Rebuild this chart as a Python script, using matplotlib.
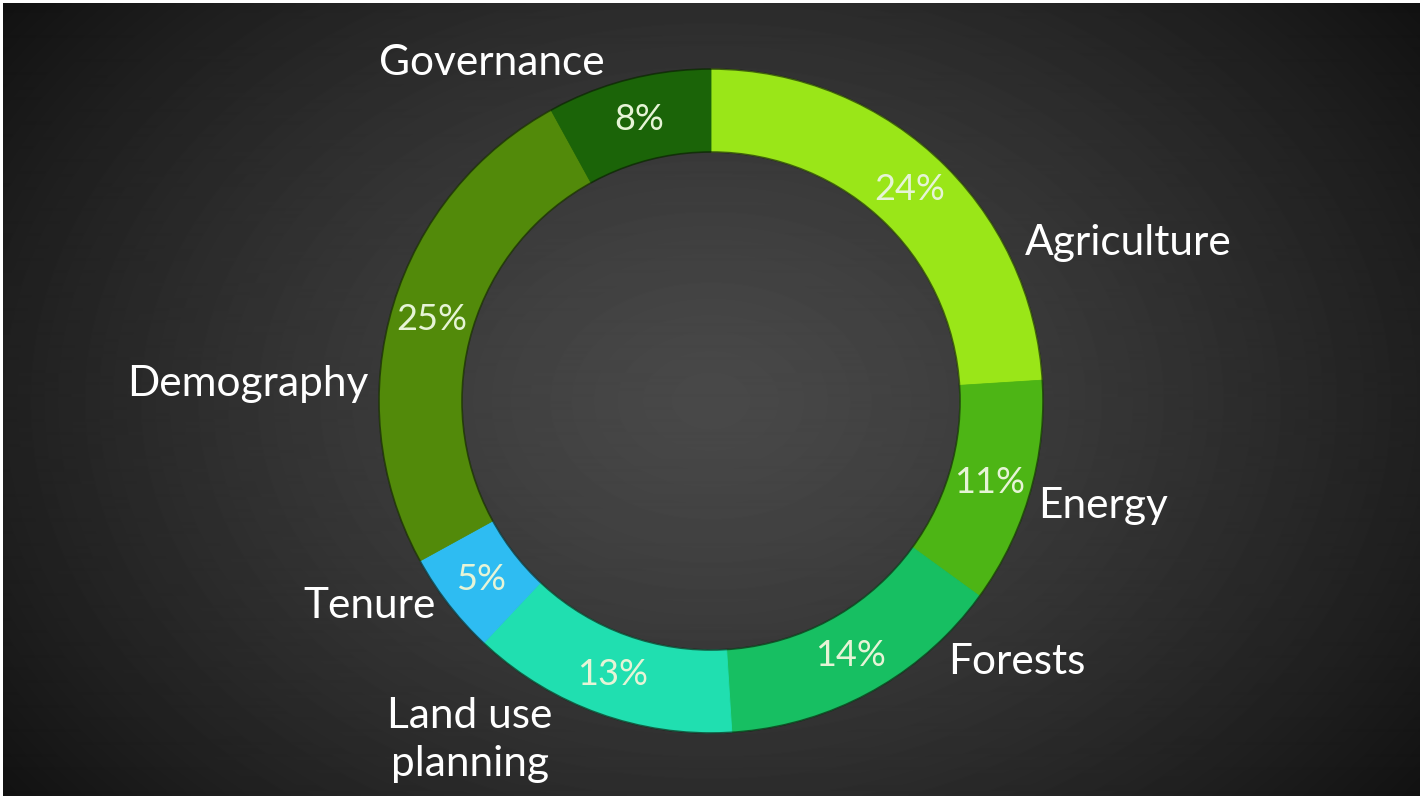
import matplotlib
matplotlib.use("Agg")
import matplotlib.pyplot as plt
from matplotlib.patches import Circle
import numpy as np

categories = ["Agriculture", "Energy", "Forests", "Land use\nplanning", "Tenure", "Demography", "Governance"]
shares = [24, 11, 14, 13, 5, 25, 8]
colors = ["#9ae618", "#4db515", "#17bf62", "#20dfb0", "#2ebcf2", "#528a0a", "#1b6408"]

# label centres, in pie units (radius 1 = outer edge of the ring)
label_pos = [(1.256, 0.476), (1.181, -0.316), (0.922, -0.786), (-0.726, -1.021),
             (-1.027, -0.617), (-1.395, 0.051), (-0.660, 1.018)]

W, H = 1421, 799
cx, cy, R = 711, 401, 332  # pixel centre and radius of the ring
ring = 0.25

plt.rcParams["font.family"] = ["Lato", "DejaVu Sans"]

fig = plt.figure(figsize=(W / 100, H / 100), dpi=100, facecolor="white")

# dark radial background, leaving a thin white frame
bg = fig.add_axes([3 / W, 3 / H, (W - 4) / W, (H - 6) / H])
yy, xx = np.mgrid[0:H - 6, 0:W - 4]
d = np.sqrt(((xx - (cx - 3)) / 760.0) ** 2 + ((yy - (cy - 3)) / 560.0) ** 2)
shade = 0.285 - 0.235 * np.clip(d, 0, 1.25) ** 1.3 / 1.25 ** 1.3
bg.imshow(shade, cmap="gray", vmin=0, vmax=1, aspect="auto", interpolation="bilinear")
bg.set_axis_off()

ax = fig.add_axes([0, 0, 1, 1])
ax.patch.set_alpha(0)
wedges, texts = ax.pie(
    shares,
    colors=colors,
    startangle=90,
    counterclock=False,
    radius=1.0,
    wedgeprops=dict(width=ring, edgecolor="none", linewidth=0, antialiased=True),
)
for w, c in zip(wedges, colors):
    w.set_edgecolor(c)
    w.set_linewidth(0.6)

# thin dark rims on the outside and inside of the ring
for rad in (1.0, 1.0 - ring):
    ax.add_patch(Circle((0, 0), rad, fill=False, edgecolor=(0.04, 0.08, 0.02, 0.6), linewidth=1.2))

# percentage labels in the middle of the ring
total = sum(shares)
start = 90.0
for val in shares:
    mid = np.deg2rad(start - 360.0 * val / total / 2)
    ax.text((1 - ring / 2) * np.cos(mid), (1 - ring / 2) * np.sin(mid), f"{val}%",
            ha="center", va="center", fontsize=26, color="#e6f4d6")
    start -= 360.0 * val / total

for name, (lx, ly) in zip(categories, label_pos):
    ax.text(lx, ly, name, ha="center", va="center", fontsize=30.5, color="white",
            linespacing=1.3)

ax.set_xlim(-cx / R, (W - cx) / R)
ax.set_ylim(-(H - cy) / R, cy / R)
ax.set_aspect("auto")
ax.set_axis_off()

fig.savefig("out.png", dpi=100, facecolor="white")
